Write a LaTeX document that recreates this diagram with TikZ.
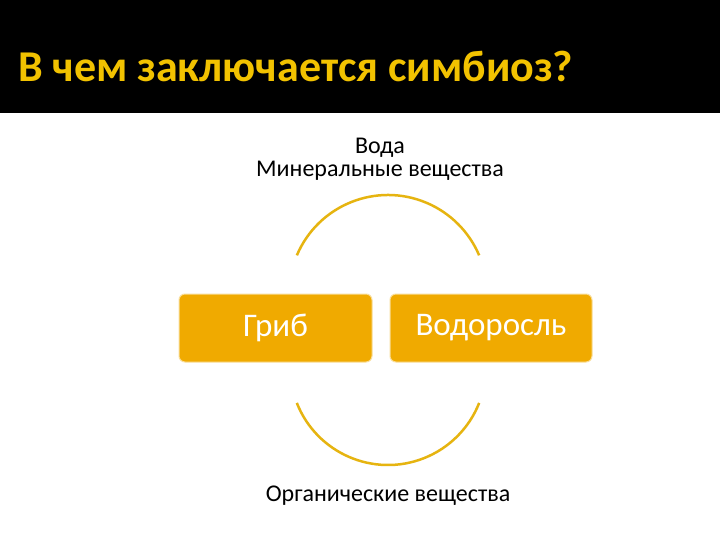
\documentclass[tikz,border=0pt]{standalone}
\usepackage{fontspec}
\setmainfont{Carlito}
\definecolor{gold}{HTML}{F0AA00}
\definecolor{title}{HTML}{F2C200}
\definecolor{arcc}{HTML}{E6B410}
\tikzset{
  box/.style={draw=gold!40, line width=1pt, fill=gold, rounded corners=6pt, minimum height=68pt, text=white, font=\fontsize{33}{38}\selectfont},
  lbl/.style={font=\fontsize{24}{23}\selectfont, align=center, text=black},
  arcline/.style={draw=arcc, line width=2.5pt}
}
\begin{document}
\begin{tikzpicture}[x=1pt,y=-1pt]
\useasboundingbox (0,0) rectangle (720,540);
\fill[white] (0,0) rectangle (720,540);
\fill[black] (0,0) rectangle (720,113);
\node[anchor=west, text=title, font=\fontsize{44}{50}\selectfont\bfseries, inner sep=0pt] (t) at (18,66) {В чем заключается симбиоз?};
\node[box, minimum width=193pt] (grib) at (275.5,328) {Гриб};
\node[box, minimum width=202pt] (vod) at (491,328) {Водоросль};
\node[lbl] (top) at (380,159) {Вода\\Минеральные вещества};
\node[lbl] (bot) at (388,496) {Органические вещества};
\draw[arcline] (388,294) ++(-157:99) arc[start angle=-157, end angle=-23, radius=99];
\draw[arcline] (388,367) ++(158.5:98) arc[start angle=158.5, end angle=21.5, radius=98];
\end{tikzpicture}
\end{document}
